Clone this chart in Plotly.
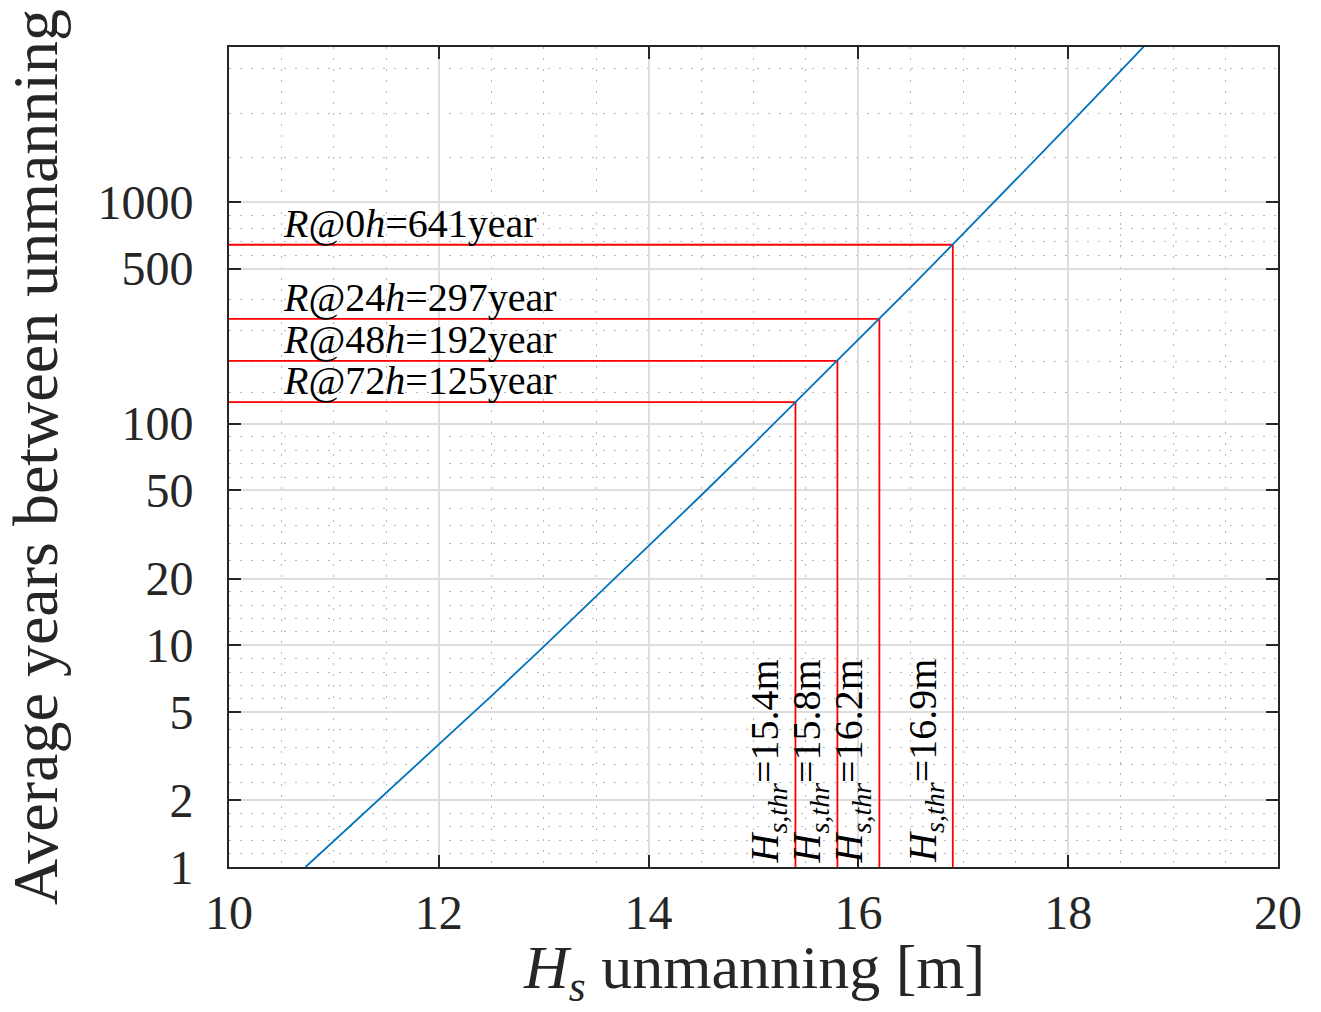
import math
import plotly.graph_objects as go

# ---- data ----
hs = [10.73, 11.0, 11.5, 12.0, 12.5, 13.0, 13.5, 14.0, 14.5, 15.0, 15.5,
      16.0, 16.5, 17.0, 17.5, 18.0, 18.5, 18.73]
years = [1.0, 1.31, 2.15, 3.55, 5.9, 9.87, 16.6, 28.0, 47.4, 80.9, 139,
         239, 413, 719, 1257, 2209, 3901, 5077]

hours = [0, 24, 48, 72]
hs_thr = [16.9, 16.2, 15.8, 15.4]
r_years = [641, 297, 192, 125]

x_ticks = [10, 12, 14, 16, 18, 20]
y_ticks = [1, 2, 5, 10, 20, 50, 100, 500, 1000]
y_next = 10000

x_title = "<i>H<sub>s</sub></i> unmanning [m]"
y_title = "Average years between unmanning"

FONT = "Liberation Serif"
AX = "#262626"
BLUE = "#0072BD"
RED = "#FF0000"

# minor grid: 4 evenly spaced (in log space) lines between major ticks
edges = y_ticks + [y_next]
y_minor = []
for a, b in zip(edges[:-1], edges[1:]):
    la, lb = math.log10(a), math.log10(b)
    for k in range(1, 5):
        y_minor.append(10 ** (la + k * (lb - la) / 5))

fig = go.Figure()

# red guide lines
for xt, r in zip(hs_thr, r_years):
    fig.add_trace(go.Scatter(x=[10, xt, xt], y=[r, r, 1], mode="lines",
                             line=dict(color=RED, width=1.8),
                             showlegend=False, hoverinfo="skip"))

fig.add_trace(go.Scatter(x=hs, y=years, mode="lines",
                         line=dict(color=BLUE, width=1.8), showlegend=False))

ann = []
for h, r in zip(hours, r_years):
    ann.append(dict(x=10.5, y=math.log10(r), xref="x", yref="y",
                    text=f"<i>R</i>@{h}<i>h</i>={r}year", showarrow=False,
                    xanchor="left", yanchor="bottom", yshift=-3,
                    font=dict(family=FONT, size=40, color="black")))
for xt in hs_thr:
    ann.append(dict(x=xt, y=0, xref="x", yref="y",
                    text=f"<i>H</i><sub><i>s,thr</i></sub>={xt}m",
                    showarrow=False, textangle=-90,
                    xanchor="right", yanchor="bottom", xshift=-1, yshift=2,
                    font=dict(family=FONT, size=40, color="black")))
# x axis title
ann.append(dict(x=0.5, y=0, xref="paper", yref="paper", text=x_title,
                showarrow=False, xanchor="center", yanchor="middle",
                yshift=-104, font=dict(family=FONT, size=62, color=AX)))

fig.update_layout(
    width=1321, height=1012,
    margin=dict(l=229, r=43, t=47, b=145),
    paper_bgcolor="white", plot_bgcolor="white",
    annotations=ann,
    xaxis=dict(
        range=[10, 20], tickvals=x_ticks, ticks="inside", ticklen=12,
        tickwidth=2, tickcolor=AX, showline=True, linecolor=AX, linewidth=2,
        mirror="ticks", showgrid=True, gridcolor="#dedede", gridwidth=1.5,
        zeroline=False, automargin=False,
        tickfont=dict(family=FONT, size=48, color=AX),
        ticklabelstandoff=2,
        minor=dict(dtick=0.5, showgrid=True, gridcolor="#b8b8b8",
                   gridwidth=1, griddash="2px,9px", ticks=""),
    ),
    yaxis=dict(
        type="log", range=[0, math.log10(5000)], tickvals=y_ticks,
        ticktext=[str(v) for v in y_ticks],
        ticks="inside", ticklen=12, tickwidth=2, tickcolor=AX,
        showline=True, linecolor=AX, linewidth=2, mirror="ticks",
        showgrid=True, gridcolor="#dedede", gridwidth=1.5,
        zeroline=False, automargin=False,
        tickfont=dict(family=FONT, size=48, color=AX),
        ticklabelstandoff=24,
        minor=dict(tickvals=y_minor, showgrid=True, gridcolor="#b8b8b8",
                   gridwidth=1, griddash="2px,9px", ticks=""),
        title=dict(text=y_title, standoff=20,
                   font=dict(family=FONT, size=64, color=AX)),
    ),
)

fig.write_html("out.html")
